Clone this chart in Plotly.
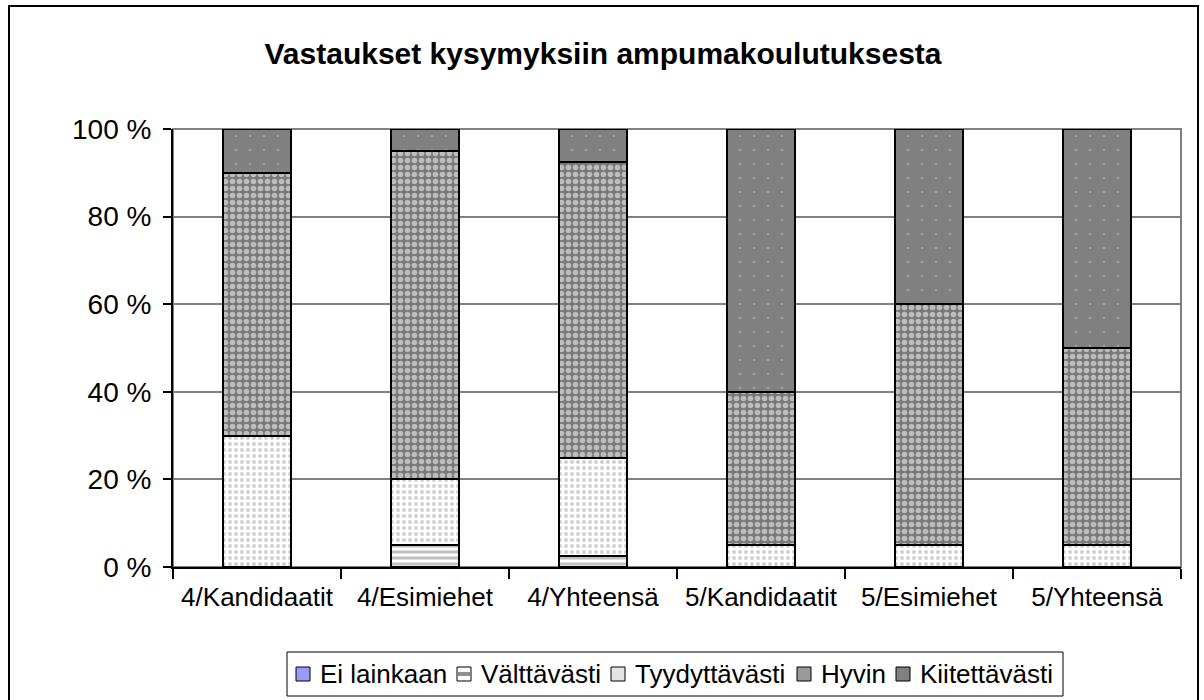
import plotly.graph_objects as go

categories = ["4/Kandidaatit", "4/Esimiehet", "4/Yhteensä", "5/Kandidaatit", "5/Esimiehet", "5/Yhteensä"]
series_names = ["Ei lainkaan", "Välttävästi", "Tyydyttävästi", "Hyvin", "Kiitettävästi"]
ei_lainkaan = [0, 0, 0, 0, 0, 0]
valttavasti = [0, 5, 2.5, 0, 0, 0]
tyydyttavasti = [30, 15, 22.5, 5, 5, 5]
hyvin = [60, 75, 67.5, 35, 55, 45]
kiitettavasti = [10, 5, 7.5, 60, 40, 50]
y_ticks = [0, 20, 40, 60, 80, 100]
y_ticktext = ["0 %", "20 %", "40 %", "60 %", "80 %", "100 %"]

FONT = "Arial, 'Liberation Sans', sans-serif"

# page-pixel geometry
W, H = 1204, 700
PL, PR, PT, PB = 173, 1181, 129, 567


def px_x(p):
    return (p - PL) / (PR - PL)


def px_y(p):
    return (PB - p) / (PB - PT)


markers = [
    dict(color="#9999FF"),
    dict(color="#FFFFFF", pattern=dict(shape="-", fgcolor="#808080", bgcolor="#FFFFFF", size=6, solidity=0.5)),
    dict(color="#FFFFFF", pattern=dict(shape=".", fgcolor="#A0A0A0", bgcolor="#FFFFFF", size=6, solidity=0.35)),
    dict(color="#808080", pattern=dict(shape=".", fgcolor="#FFFFFF", bgcolor="#787878", size=7, solidity=0.5)),
    dict(color="#808080", pattern=dict(shape=".", fgcolor="#BDBDBD", bgcolor="#808080", size=14, solidity=0.03)),
]
values = [ei_lainkaan, valttavasti, tyydyttavasti, hyvin, kiitettavasti]

fig = go.Figure()
for name, vals, mk in zip(series_names, values, markers):
    mk = dict(mk)
    mk["line"] = dict(color="#000000", width=2)
    fig.add_trace(go.Bar(x=categories, y=vals, name=name, marker=mk, showlegend=False))

shapes = [
    # plot-area frame (grey)
    dict(type="rect", xref="paper", yref="paper", x0=0, x1=1, y0=0, y1=1,
         line=dict(color="#808080", width=2), fillcolor="rgba(0,0,0,0)", layer="below"),
    # outer chart border
    dict(type="rect", xref="paper", yref="paper",
         x0=px_x(9), x1=px_x(1198), y0=px_y(712), y1=px_y(6),
         line=dict(color="#000000", width=2), fillcolor="rgba(0,0,0,0)", layer="below"),
    # legend box
    dict(type="rect", xref="paper", yref="paper",
         x0=px_x(287), x1=px_x(1063), y0=px_y(696), y1=px_y(652),
         line=dict(color="#000000", width=1), fillcolor="#FFFFFF", layer="below"),
]

# legend swatches + labels
legend_fill = ["#9999FF", "#FFFFFF", "#E4E4E4", "#9A9A9A", "#808080"]
sq_x = [296, 457, 611, 797, 896]
sq_top, sq_bot = 667, 681
annotations = []
for i, name in enumerate(series_names):
    x0 = sq_x[i]
    shapes.append(dict(type="rect", xref="paper", yref="paper",
                       x0=px_x(x0), x1=px_x(x0 + 14), y0=px_y(sq_bot), y1=px_y(sq_top),
                       line=dict(color="#000000", width=1), fillcolor=legend_fill[i], layer="above"))
    if name == "Välttävästi":
        shapes.append(dict(type="rect", xref="paper", yref="paper",
                           x0=px_x(x0 + 1), x1=px_x(x0 + 13), y0=px_y(676), y1=px_y(672),
                           line=dict(width=0), fillcolor="#909090", layer="above"))
    annotations.append(dict(text=name, xref="paper", yref="paper",
                            x=px_x(x0 + 22), y=px_y(674), xanchor="left", yanchor="middle",
                            showarrow=False, font=dict(family=FONT, size=26, color="#000000")))

fig.update_layout(
    barmode="stack",
    bargap=0.6,
    width=W,
    height=H,
    margin=dict(l=PL, r=W - PR, t=PT, b=H - PB, pad=0),
    paper_bgcolor="#FFFFFF",
    plot_bgcolor="#FFFFFF",
    font=dict(family=FONT, color="#000000"),
    title=dict(
        text="<b>Vastaukset kysymyksiin ampumakoulutuksesta</b>",
        font=dict(family=FONT, size=30, color="#000000"),
        x=603 / W, xref="container", xanchor="center",
        y=1 - 53 / H, yref="container", yanchor="middle",
    ),
    showlegend=False,
    shapes=shapes,
    annotations=annotations,
)

fig.update_xaxes(
    type="category",
    showline=True, linecolor="#000000", linewidth=2,
    ticks="outside", ticklen=10, tickcolor="#000000", tickwidth=2,
    tickson="boundaries",
    ticklabelstandoff=6,
    tickfont=dict(family=FONT, size=26, color="#000000"),
    showgrid=False,
)
fig.update_yaxes(
    range=[0, 100],
    tickvals=y_ticks, ticktext=y_ticktext,
    showline=True, linecolor="#000000", linewidth=2,
    ticks="outside", ticklen=8, tickcolor="#000000", tickwidth=2,
    ticklabelstandoff=6,
    tickfont=dict(family=FONT, size=28, color="#000000"),
    showgrid=True, gridcolor="#808080", gridwidth=1.5,
    zeroline=False,
)

fig.write_html(
    "out.html",
    config=dict(displayModeBar=False),
    post_script="document.body.style.margin='0';document.body.style.overflow='hidden';",
)
